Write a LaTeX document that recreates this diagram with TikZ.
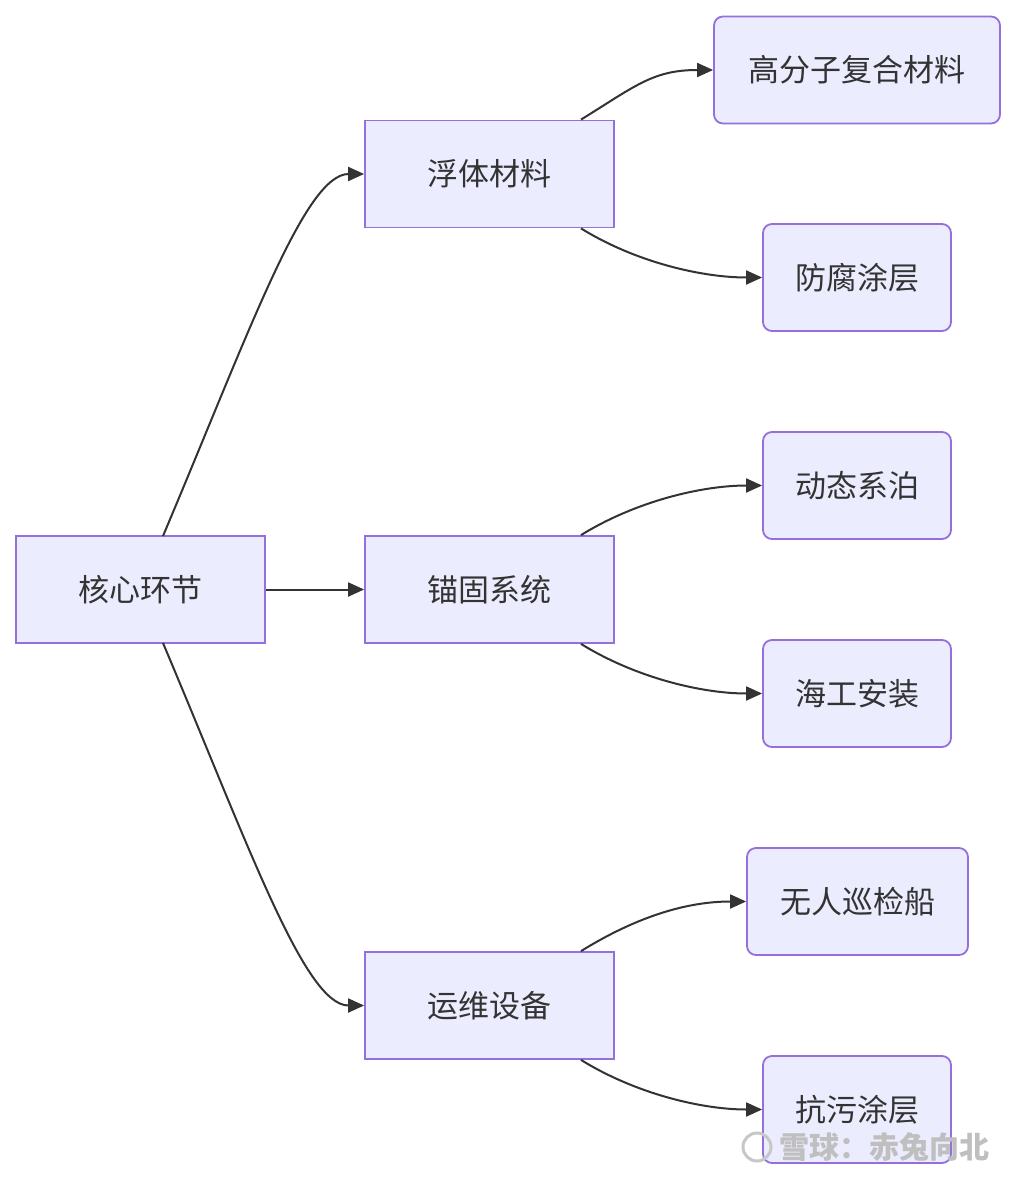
\documentclass[tikz,border=0pt]{standalone}
\usepackage{fontspec}
\setmainfont{Noto Sans CJK SC}
\usetikzlibrary{arrows.meta}
\definecolor{boxfill}{HTML}{ECECFF}
\definecolor{boxline}{HTML}{9370DB}
\definecolor{ink}{HTML}{333333}
\begin{document}
\begin{tikzpicture}[x=1pt,y=-1pt,
  base/.style={draw=boxline,fill=boxfill,line width=1.8pt,text=ink,font=\fontsize{31}{36}\selectfont,minimum height=107pt,inner sep=0pt},
  sq/.style={base,minimum width=249pt},
  rd/.style={base,rounded corners=9pt,minimum width=188pt},
  edge/.style={draw=ink,line width=2pt,-{Triangle[length=16pt,width=14pt]}}]
\useasboundingbox[fill=white] (0,0) rectangle (1016,1180);
\node[sq] (core) at (140.5,589.5) {核心环节};
\node[sq] (float) at (489.5,174) {浮体材料};
\node[sq] (anchor) at (489.5,589.5) {锚固系统};
\node[sq] (ops) at (489.5,1005.5) {运维设备};
\node[rd,minimum width=286pt] (poly) at (857,70) {高分子复合材料};
\node[rd] (anti) at (857,277.5) {防腐涂层};
\node[rd] (moor) at (857,485.5) {动态系泊};
\node[rd] (inst) at (857,693.5) {海工安装};
\node[rd,minimum width=221pt] (usv) at (857.5,901.5) {无人巡检船};
\node[rd] (foul) at (857,1109.5) {抗污涂层};
\coordinate (c1) at (163,536);
\coordinate (c2) at (163,643);
\draw[edge] (c1) .. controls (250,330) and (305,174) .. (float.west);
\draw[edge] (core.east) -- (anchor.west);
\draw[edge] (c2) .. controls (250,849) and (305,1005.5) .. (ops.west);
\foreach \p/\a/\b in {float/poly/anti, anchor/moor/inst, ops/usv/foul}{
  \coordinate (\p-t) at ([xshift=91.5pt]\p.north);
  \coordinate (\p-b) at ([xshift=91.5pt]\p.south);
  \draw[edge] (\p-t) .. controls +(55,-34) and +(-60,0) .. (\a.west);
  \draw[edge] (\p-b) .. controls +(55,34) and +(-60,0) .. (\b.west);
}
\node[text=black!25,font=\fontsize{30}{34}\selectfont\bfseries,anchor=west] (wm) at (776,1147) {雪球：赤兔向北};
\node[draw=black!22,line width=3pt,circle,minimum size=28pt,inner sep=0pt] (logo) at (757,1147) {};
\end{tikzpicture}
\end{document}
